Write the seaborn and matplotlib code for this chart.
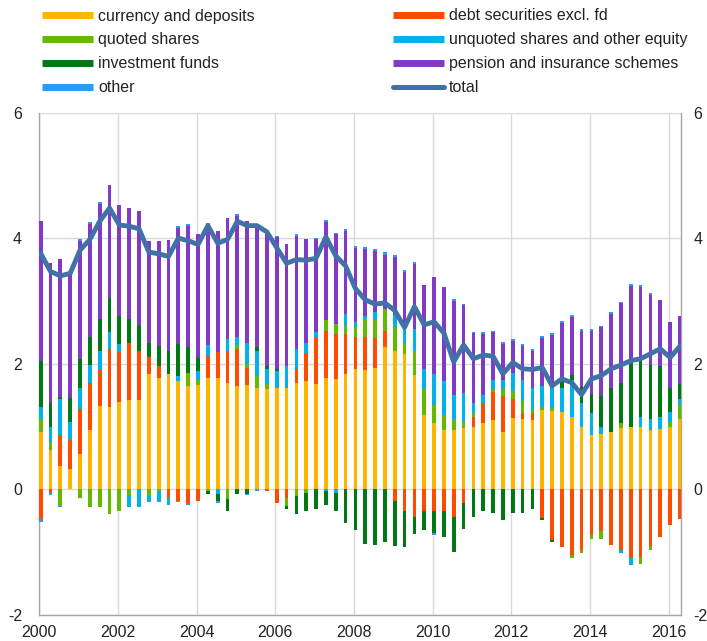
import numpy as np
import pandas as pd
import matplotlib
matplotlib.use("Agg")
import matplotlib.pyplot as plt
import seaborn as sns
from matplotlib.lines import Line2D

# ---------------- data (quarterly, 2000Q1 - 2016Q2) ----------------
quarters = [f"{y}Q{q}" for y in range(2000, 2017) for q in range(1, 5)][:66]

currency = [0.92, 0.62, 0.38, 0.33, 0.56, 0.94, 1.33, 1.31, 1.39, 1.42,
            1.42, 1.84, 1.78, 1.84, 1.73, 1.64, 1.67, 1.78, 1.78, 1.70,
            1.64, 1.66, 1.62, 1.60, 1.62, 1.62, 1.70, 1.73, 1.68, 1.78,
            1.76, 1.84, 1.92, 1.90, 1.94, 2.27, 2.20, 2.15, 1.82, 1.19,
            1.05, 0.94, 0.94, 0.98, 1.00, 1.05, 1.11, 0.92, 1.14, 1.12,
            1.11, 1.27, 1.25, 1.23, 1.15, 0.99, 0.86, 0.88, 0.92, 0.97,
            0.99, 1.00, 0.94, 0.96, 1.00, 1.12]
debt = [-0.47, -0.06, 0.48, 0.45, 0.72, 0.75, 0.57, 0.92, 0.80, 0.91,
        0.79, 0.27, 0.19, -0.14, -0.18, -0.22, -0.18, 0.34, 0.41, 0.50,
        0.59, 0.28, 0.00, -0.03, -0.22, -0.14, 0.22, 0.44, 0.75, 0.75,
        0.72, 0.64, 0.51, 0.53, 0.47, 0.25, -0.18, -0.35, -0.44, -0.35,
        -0.34, -0.34, -0.44, -0.22, 0.15, 0.33, 0.44, 0.56, 0.30, 0.09,
        0.10, -0.46, -0.80, -0.92, -1.04, -0.96, -0.72, -0.67, -0.89, -0.96,
        -1.10, -1.08, -0.90, -0.76, -0.56, -0.47]
quoted = [0.20, 0.14, -0.26, 0.00, -0.14, -0.28, -0.28, -0.39, -0.34, -0.09,
          0.00, -0.10, -0.03, 0.00, -0.02, 0.22, 0.08, -0.03, 0.00, -0.16,
          0.07, 0.06, 0.18, 0.08, 0.00, -0.12, -0.11, -0.05, 0.00, 0.17,
          0.16, 0.12, 0.16, 0.28, 0.29, 0.36, 0.38, 0.18, 0.39, 0.41,
          0.29, 0.25, 0.18, 0.11, 0.06, 0.00, 0.05, 0.12, 0.12, 0.20,
          0.06, 0.04, 0.04, 0.00, -0.05, -0.06, -0.07, -0.12, 0.00, 0.08,
          0.00, -0.10, -0.06, 0.00, 0.08, 0.23]
unquoted = [0.19, 0.24, 0.58, 0.29, 0.34, 0.29, 0.30, 0.28, 0.12, -0.19,
            -0.28, -0.10, -0.17, -0.11, 0.08, -0.03, 0.14, 0.18, -0.07, 0.19,
            0.13, 0.33, 0.40, 0.24, 0.26, 0.35, 0.31, 0.16, 0.07, -0.03,
            -0.05, 0.19, 0.08, 0.05, 0.12, 0.00, 0.20, 0.27, 0.35, 0.32,
            0.49, 0.53, 0.38, 0.44, 0.17, 0.12, 0.15, 0.15, 0.30, 0.34,
            0.34, 0.34, 0.32, 0.39, 0.60, 0.39, 0.36, 0.12, 0.00, -0.05,
            -0.11, 0.16, 0.18, 0.20, 0.16, 0.09]
invest = [0.73, 0.37, 0.03, 0.39, 0.46, 0.44, 0.51, 0.53, 0.45, 0.39,
          0.41, 0.22, 0.32, 0.37, 0.51, 0.40, 0.20, -0.04, -0.12, -0.18,
          -0.08, -0.07, 0.07, 0.05, 0.04, -0.05, -0.28, -0.30, -0.31, -0.22,
          -0.30, -0.54, -0.64, -0.87, -0.89, -0.83, -0.72, -0.56, -0.27, -0.29,
          -0.36, -0.42, -0.55, -0.41, -0.44, -0.34, -0.38, -0.48, -0.38, -0.38,
          -0.31, -0.03, -0.04, 0.14, 0.07, 0.25, 0.30, 0.49, 0.69, 0.65,
          1.00, 0.89, 0.86, 0.80, 0.37, 0.24]
pension = [2.23, 2.23, 2.20, 1.98, 1.87, 1.81, 1.84, 1.81, 1.77, 1.76,
           1.81, 1.63, 1.66, 1.76, 1.84, 1.93, 1.98, 1.92, 1.93, 1.93,
           1.92, 1.94, 1.96, 2.10, 2.10, 1.94, 1.81, 1.66, 1.49, 1.56,
           1.43, 1.33, 1.17, 1.07, 0.97, 0.86, 0.92, 0.86, 1.03, 1.33,
           1.55, 1.51, 1.50, 1.40, 1.11, 0.98, 0.75, 0.56, 0.51, 0.54,
           0.60, 0.76, 0.85, 0.89, 0.92, 0.90, 1.01, 1.09, 1.19, 1.27,
           1.25, 1.18, 1.12, 1.06, 1.05, 1.08]
other = [-0.05, -0.03, -0.02, 0.00, 0.03, 0.03, 0.03, 0.00, 0.00, 0.00,
         0.00, 0.00, 0.00, 0.00, 0.03, 0.03, 0.00, 0.03, -0.02, 0.00,
         0.03, -0.02, -0.03, 0.03, 0.02, 0.00, 0.02, 0.00, 0.02, 0.03,
         0.02, 0.03, 0.03, 0.03, 0.04, 0.04, 0.03, 0.03, 0.03, 0.00,
         -0.02, 0.00, 0.03, 0.03, 0.02, 0.02, 0.02, 0.03, 0.03, 0.02,
         0.02, 0.03, 0.03, 0.03, 0.03, 0.02, 0.02, 0.02, 0.02, 0.02,
         0.03, 0.03, 0.03, 0.00, 0.00, 0.00]
total = [3.76, 3.47, 3.40, 3.44, 3.81, 3.98, 4.27, 4.48, 4.21, 4.19,
         4.15, 3.78, 3.75, 3.71, 4.00, 3.96, 3.90, 4.20, 3.92, 3.98,
         4.27, 4.20, 4.20, 4.10, 3.85, 3.60, 3.66, 3.65, 3.68, 4.02,
         3.72, 3.56, 3.20, 3.02, 2.95, 2.97, 2.85, 2.58, 2.91, 2.62,
         2.67, 2.49, 2.03, 2.30, 2.08, 2.14, 2.12, 1.84, 2.02, 1.92,
         1.91, 1.94, 1.65, 1.76, 1.70, 1.51, 1.76, 1.81, 1.92, 1.98,
         2.05, 2.08, 2.16, 2.24, 2.10, 2.28]

series_names = ["currency and deposits", "debt securities excl. fd", "quoted shares",
                "unquoted shares and other equity", "investment funds",
                "pension and insurance schemes", "other"]
series_values = [currency, debt, quoted, unquoted, invest, pension, other]
series_colors = ["#FFB400", "#FF4B00", "#65B800", "#00B1EA", "#007816", "#8139C6", "#2B9AF3"]
total_color = "#4270A8"

year_ticks = [2000, 2002, 2004, 2006, 2008, 2010, 2012, 2014, 2016]
y_ticks = [-2, 0, 2, 4, 6]

# ---------------- styling ----------------
sns.set_theme(style="white")
plt.rcParams["font.family"] = ["Liberation Sans", "DejaVu Sans"]
text_color = "#222222"
grid_color = "#D9D9D9"
spine_color = "#A6A6A6"
fs = 11.5

W, H = 707, 641
fig = plt.figure(figsize=(W / 100, H / 100), dpi=100)
left_px, right_px, top_px, bottom_px = 39.3, 680.5, 112.6, 615.0
ax = fig.add_axes([left_px / W, 1 - bottom_px / H,
                   (right_px - left_px) / W, (bottom_px - top_px) / H])

# x positions from quarter labels
xpos = np.array([int(q[:4]) + (int(q[-1]) - 1) / 4 + 0.035 for q in quarters])

df = pd.DataFrame({"x": xpos, "total": total})

pos_bottom = np.zeros(len(xpos))
neg_bottom = np.zeros(len(xpos))
bar_w = 0.095
for vals, col in zip(series_values, series_colors):
    v = np.array(vals, dtype=float)
    pos = np.where(v > 0, v, 0)
    neg = np.where(v < 0, v, 0)
    ax.bar(xpos, pos, width=bar_w, bottom=pos_bottom, color=col, linewidth=0, zorder=3)
    ax.bar(xpos, neg, width=bar_w, bottom=neg_bottom, color=col, linewidth=0, zorder=3)
    pos_bottom += pos
    neg_bottom += neg

sns.lineplot(data=df, x="x", y="total", ax=ax, color=total_color, linewidth=3.5,
             zorder=5, legend=False, solid_joinstyle="round", solid_capstyle="round")

ax.set_xlim(2000, 2016.30)
ax.set_ylim(-2, 6)
ax.set_xticks(year_ticks)
ax.set_xticklabels([str(y) for y in year_ticks])
ax.set_yticks(y_ticks)
ax.set_yticklabels([str(t) for t in y_ticks])
ax.set_xlabel("")
ax.set_ylabel("")
ax.grid(True, color=grid_color, linewidth=1.0)
ax.set_axisbelow(True)
ax.tick_params(axis="both", length=0, labelsize=fs, colors=text_color)
ax.tick_params(axis="x", pad=7)
ax.tick_params(axis="y", pad=12.5)
for side in ["left", "bottom", "right"]:
    ax.spines[side].set_color(spine_color)
    ax.spines[side].set_linewidth(1.0)
    ax.spines[side].set_visible(True)
ax.spines["top"].set_visible(False)

ax2 = ax.twinx()
ax2.set_ylim(-2, 6)
ax2.set_yticks(y_ticks)
ax2.set_yticklabels([str(t) for t in y_ticks])
ax2.tick_params(axis="y", length=0, labelsize=fs, colors=text_color, pad=9.5)
ax2.grid(False)
for s in ax2.spines.values():
    s.set_visible(False)

# ---------------- legend (two columns) ----------------
handles = [Line2D([0], [0], color=c, linewidth=5, solid_capstyle="butt") for c in series_colors]
handles.append(Line2D([0], [0], color=total_color, linewidth=3.6, solid_capstyle="round"))
labels = series_names + ["total"]

col1 = [0, 2, 4, 6]
col2 = [1, 3, 5, 7]
common = dict(frameon=False, fontsize=fs, handlelength=3.2, handletextpad=0.3,
              labelspacing=0.56, borderpad=0, borderaxespad=0, loc="upper left",
              labelcolor=text_color)
leg1 = fig.legend([handles[i] for i in col1], [labels[i] for i in col1],
                  bbox_to_anchor=(42 / W, 1 - 8.5 / H), **common)
leg2 = fig.legend([handles[i] for i in col2], [labels[i] for i in col2],
                  bbox_to_anchor=(393 / W, 1 - 8.5 / H), **common)

fig.savefig("out.png", dpi=100)
